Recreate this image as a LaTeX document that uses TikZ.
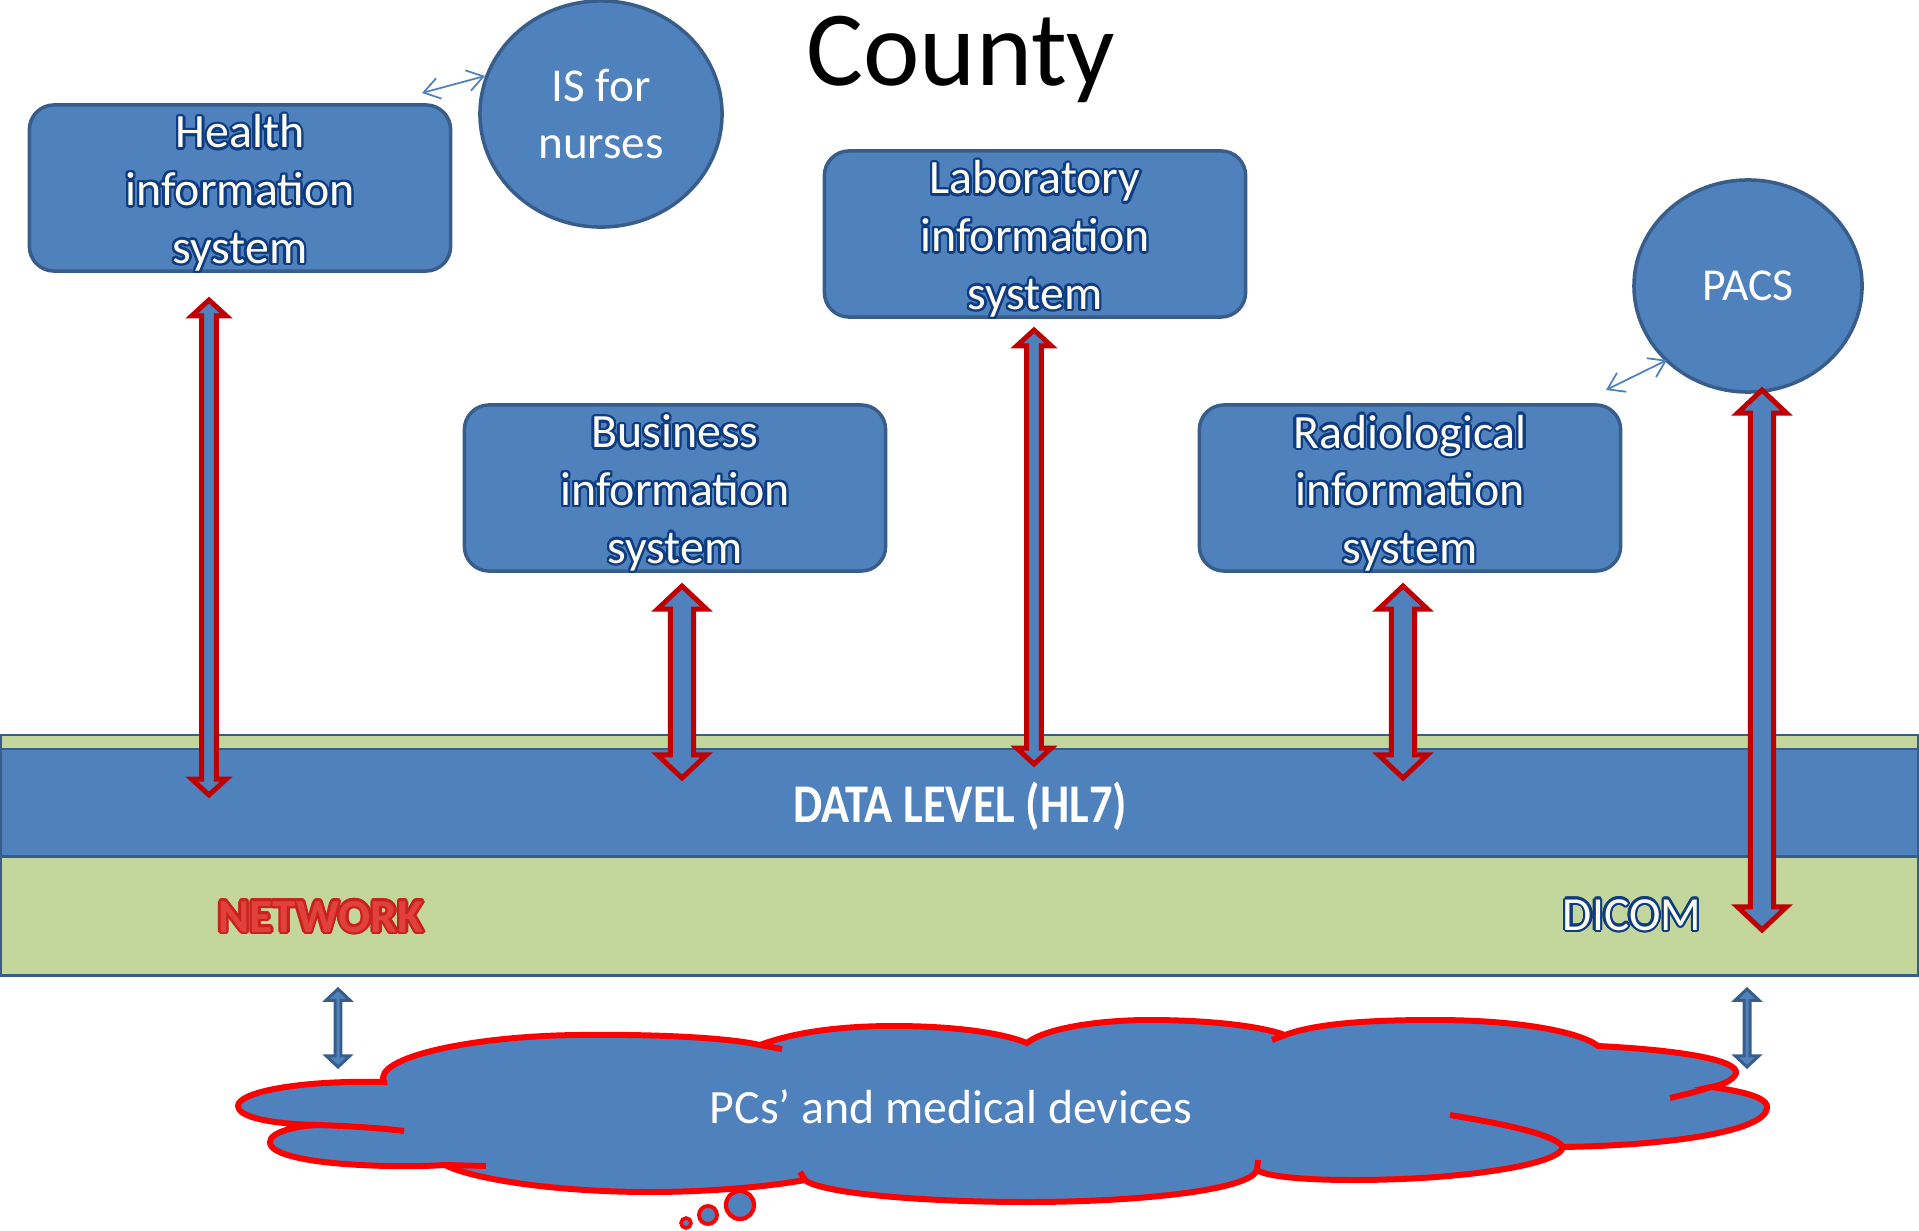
\documentclass[tikz,border=0pt]{standalone}
\usepackage{fontspec}
\setmainfont{Carlito}
\usepackage{graphicx}
\usepackage{xcolor}
\usepackage{tikz}
\usetikzlibrary{arrows.meta, calc, positioning, shapes.geometric}

\definecolor{boxblue}{HTML}{4F81BD}
\definecolor{boxline}{HTML}{385D8A}
\definecolor{layergreen}{HTML}{C3D69B}
\definecolor{arrowred}{HTML}{C00000}
\definecolor{cloudred}{HTML}{FF0000}
\definecolor{txtnavy}{HTML}{0F3C80}
\definecolor{txtcream}{HTML}{FCFCF0}
\definecolor{netred}{HTML}{E2413B}
\definecolor{netline}{HTML}{C8221E}

% text with a coloured rim (copies shifted round the letters)
\newcommand{\olcopy}[3]{\rlap{\hspace*{#1}\raisebox{#2}{#3}}}
\newcommand{\outlined}[3]{{\color{#1}%
  \olcopy{0.7pt}{0pt}{#3}\olcopy{-0.7pt}{0pt}{#3}%
  \olcopy{0pt}{0.7pt}{#3}\olcopy{0pt}{-0.7pt}{#3}%
  \olcopy{0.5pt}{0.5pt}{#3}\olcopy{-0.5pt}{0.5pt}{#3}%
  \olcopy{0.5pt}{-0.5pt}{#3}\olcopy{-0.5pt}{-0.5pt}{#3}%
  \olcopy{0.65pt}{0.27pt}{#3}\olcopy{-0.65pt}{0.27pt}{#3}%
  \olcopy{0.65pt}{-0.27pt}{#3}\olcopy{-0.65pt}{-0.27pt}{#3}%
  \olcopy{0.27pt}{0.65pt}{#3}\olcopy{-0.27pt}{0.65pt}{#3}%
  \olcopy{0.27pt}{-0.65pt}{#3}\olcopy{-0.27pt}{-0.65pt}{#3}}%
  {\color{#2}#3}}
\newcommand{\navy}[1]{\outlined{txtnavy}{txtcream}{#1}}
\newcommand{\sysline}[1]{\raisebox{-1.4pt}[\height][\depth]{\navy{#1}}}

% block arrow with a head at each end: style, top, bottom, half shaft, half head, head length
\newcommand{\fatarrow}[6][fatarrow]{%
  \draw[#1] let \p1=(#2), \p2=(#3) in
    (\x1,\y1) -- (\x1+#5,\y1-#6) -- (\x1+#4,\y1-#6) -- (\x1+#4,\y2+#6)
    -- (\x1+#5,\y2+#6) -- (\x1,\y2) -- (\x1-#5,\y2+#6) -- (\x1-#4,\y2+#6)
    -- (\x1-#4,\y1-#6) -- (\x1-#5,\y1-#6) -- cycle;}

\begin{document}
\begin{tikzpicture}[x=0.01cm, y=-0.01cm,
  sysbox/.style={draw=boxline, fill=boxblue, line width=1pt, rounded corners=7pt,
    minimum width=4.21cm, minimum height=1.66cm, inner sep=0pt, align=center,
    font=\fontsize{13.6}{16.4}\selectfont},
  sysdisk/.style={ellipse, draw=boxline, fill=boxblue, line width=1pt, inner sep=0pt,
    align=center, text=white, font=\fontsize{13.4}{16.2}\selectfont},
  layer/.style={draw=boxline, line width=0.85pt},
  fatarrow/.style={draw=arrowred, fill=boxblue, line width=1.4pt, line join=miter},
  linkarrow/.style={draw=boxline, fill=boxblue, line width=0.85pt, line join=miter},
  thinlink/.style={draw=boxblue, line width=0.5pt,
    {Straight Barb[length=4.5pt,width=6pt]}-{Straight Barb[length=4.5pt,width=6pt]}},
  cloudline/.style={draw=cloudred, line width=1.7pt},
]
\useasboundingbox (0,0) rectangle (1919,1231);

% layers
\draw[layer, fill=layergreen] (1,735) rectangle (1918,975);
\draw[layer, fill=boxblue] (1,749) rectangle (1918,856);

% systems
\node[sysbox] (his) at (240,188) {\sysline{Health}\\\sysline{information}\\\sysline{system}};
\node[sysbox] (lis) at (1035,234) {\sysline{Laboratory}\\\sysline{information}\\\sysline{system}};
\node[sysbox] (bis) at (675,488) {\sysline{Business}\\\sysline{information}\\\sysline{system}};
\node[sysbox] (ris) at (1410,488) {\sysline{Radiological}\\\sysline{information}\\\sysline{system}};
\node[sysdisk, minimum width=2.42cm, minimum height=2.26cm] (nurses) at (601,114) {IS for\\nurses};
\node[sysdisk, minimum width=2.28cm, minimum height=2.12cm, font=\fontsize{13}{16}\selectfont] (pacs) at (1748,286) {PACS};

\node[anchor=base, font=\fontsize{30.4}{36}\selectfont] (county) at (961,86) {County};

% HL7 arrows
\coordinate (his-up) at (209,300);   \coordinate (his-down) at (209,795);
\coordinate (bis-up) at (682,586);   \coordinate (bis-down) at (682,778);
\coordinate (lis-up) at (1034,330);  \coordinate (lis-down) at (1034,764);
\coordinate (ris-up) at (1403,586);  \coordinate (ris-down) at (1403,778);
\coordinate (pacs-up) at (1762,390); \coordinate (pacs-down) at (1762,930);
\fatarrow{his-up}{his-down}{2.1pt}{4.9pt}{4.5pt}
\fatarrow{lis-up}{lis-down}{2.1pt}{4.9pt}{4.5pt}
\fatarrow{bis-up}{bis-down}{3.3pt}{7pt}{6.6pt}
\fatarrow{ris-up}{ris-down}{3.3pt}{7pt}{6.6pt}
\fatarrow{pacs-up}{pacs-down}{3.3pt}{7pt}{6.6pt}

\node[anchor=base, text=white, font=\bfseries\fontsize{15.5}{18}\selectfont] (hl7) at (960,822)
  {\scalebox{0.85}[1]{DATA LEVEL (HL7)}};
\node[anchor=base, font=\bfseries\fontsize{13.5}{16}\selectfont] (network) at (321,932)
  {\outlined{netline}{netred}{NETWORK}};
\node[anchor=base, font=\fontsize{13.5}{16}\selectfont] (dicom) at (1632,930) {\navy{DICOM}};

% devices cloud
\draw[cloudline, fill=boxblue] (318,1125)
  .. controls (270,1124) and (238,1117) .. (238,1106)
  .. controls (238,1092) and (300,1080) .. (384,1082)
  .. controls (372,1058) and (470,1036) .. (578,1035)
  .. controls (660,1034) and (730,1038) .. (760,1045)
  .. controls (800,1030) and (850,1026) .. (894,1026)
  .. controls (950,1026) and (1000,1032) .. (1027,1043)
  .. controls (1045,1028) and (1100,1020) .. (1149,1020)
  .. controls (1210,1020) and (1260,1026) .. (1285,1035)
  .. controls (1320,1022) and (1380,1020) .. (1435,1020)
  .. controls (1520,1020) and (1580,1032) .. (1598,1046)
  .. controls (1680,1050) and (1738,1060) .. (1736,1073)
  .. controls (1734,1080) and (1722,1085) .. (1711,1087)
  .. controls (1755,1093) and (1768,1100) .. (1767,1108)
  .. controls (1765,1130) and (1680,1145) .. (1563,1147)
  .. controls (1560,1165) and (1460,1180) .. (1353,1180)
  .. controls (1300,1180) and (1265,1176) .. (1257,1170)
  .. controls (1250,1190) and (1140,1202) .. (1027,1202)
  .. controls (920,1202) and (820,1193) .. (805,1180)
  .. controls (760,1188) and (700,1192) .. (650,1192)
  .. controls (550,1192) and (470,1178) .. (445,1165)
  .. controls (400,1168) and (290,1166) .. (272,1147)
  .. controls (262,1135) and (290,1126) .. cycle;
\draw[cloudline] (318,1125) .. controls (350,1126) and (380,1128) .. (404,1131);
\draw[cloudline] (445,1165) -- (486,1166);
\draw[cloudline] (760,1045) -- (782,1049);
\draw[cloudline] (1285,1035) -- (1272,1040);
\draw[cloudline] (1711,1087) .. controls (1695,1092) .. (1670,1098);
\draw[cloudline] (1450,1115) .. controls (1510,1125) and (1555,1135) .. (1563,1147);
\draw[cloudline] (1257,1170) -- (1258,1160);
\draw[cloudline] (805,1180) -- (800,1172);
\draw[cloudline, fill=boxblue, line width=1.2pt] (740,1205) circle [radius=14];
\draw[cloudline, fill=boxblue, line width=1.1pt] (708,1215) circle [radius=9];
\draw[cloudline, fill=boxblue, line width=1pt] (686,1223) circle [radius=5];
\node[anchor=base, text=white, font=\fontsize{13.6}{16}\selectfont] (devices) at (951,1123)
  {PCs’ and medical devices};

% links to the devices
\coordinate (netl-up) at (338,989);  \coordinate (netl-down) at (338,1067);
\coordinate (netr-up) at (1747,989); \coordinate (netr-down) at (1747,1067);
\fatarrow[linkarrow]{netl-up}{netl-down}{0.85pt}{3.4pt}{3.2pt}
\fatarrow[linkarrow]{netr-up}{netr-down}{0.85pt}{3.4pt}{3.2pt}

\coordinate (his-link) at (422,93);   \coordinate (nurses-link) at (485,76);
\coordinate (ris-link) at (1606,390); \coordinate (pacs-link) at (1667,360);
\draw[thinlink] (his-link) -- (nurses-link);
\draw[thinlink] (ris-link) -- (pacs-link);
\end{tikzpicture}
\end{document}
